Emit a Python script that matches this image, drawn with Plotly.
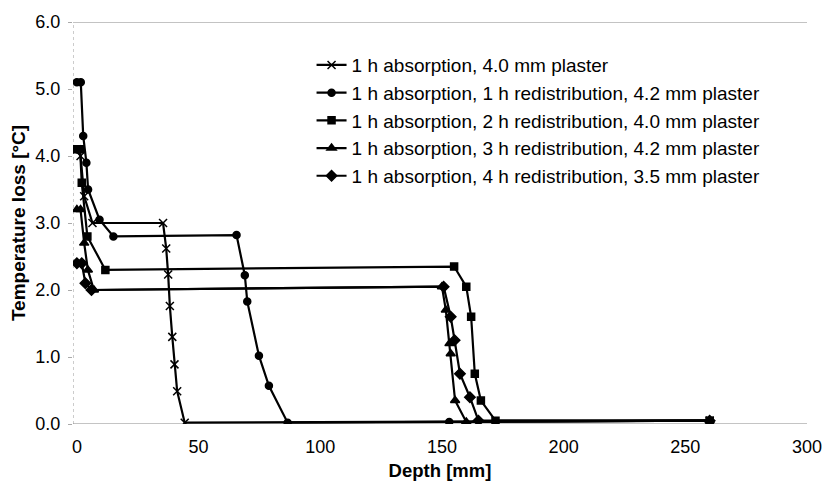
import plotly.graph_objects as go

names = [
    "1 h absorption, 4.0 mm plaster",
    "1 h absorption, 1 h redistribution, 4.2 mm plaster",
    "1 h absorption, 2 h redistribution, 4.0 mm plaster",
    "1 h absorption, 3 h redistribution, 4.2 mm plaster",
    "1 h absorption, 4 h redistribution, 3.5 mm plaster",
]

x_abs = [0, 1.5, 3, 6.4, 35.4, 36.7, 37.5, 38.2, 39.2, 40.1, 41.2, 44.3, 260]
y_abs = [4.1, 4.0, 3.4, 3.0, 3.0, 2.62, 2.23, 1.76, 1.30, 0.89, 0.49, 0.02, 0.05]

x_r1 = [0, 1.6, 2.6, 3.9, 4.6, 9.3, 15, 65.6, 69, 70, 74.8, 78.9, 86.6, 153, 260]
y_r1 = [5.1, 5.1, 4.3, 3.9, 3.5, 3.05, 2.8, 2.82, 2.22, 1.83, 1.02, 0.57, 0.02, 0.03, 0.05]

x_r2 = [0, 1.3, 2, 4.3, 11.7, 155, 160, 162, 163.5, 166, 172, 260]
y_r2 = [4.1, 4.1, 3.6, 2.8, 2.3, 2.35, 2.05, 1.6, 0.75, 0.35, 0.05, 0.05]

x_r3 = [0, 1.5, 3, 4.5, 7, 150, 151.6, 153.1, 153.6, 155.4, 160, 260]
y_r3 = [3.2, 3.2, 2.7, 2.3, 2.0, 2.05, 1.7, 1.2, 1.05, 0.35, 0.03, 0.05]

x_r4 = [0, 2, 3.5, 6, 150.7, 153.6, 155.2, 157.4, 161.5, 165, 260]
y_r4 = [2.4, 2.4, 2.1, 2.0, 2.05, 1.6, 1.25, 0.75, 0.4, 0.05, 0.05]

xs = [x_abs, x_r1, x_r2, x_r3, x_r4]
ys = [y_abs, y_r1, y_r2, y_r3, y_r4]
symbols = ["x-thin", "circle", "square", "triangle-up", "diamond"]
sizes = [8, 7, 7, 8, 8]

x_ticks = [0, 50, 100, 150, 200, 250, 300]
y_ticks = [0, 1, 2, 3, 4, 5, 6]

fig = go.Figure()
for n, x, y, s, sz in zip(names, xs, ys, symbols, sizes):
    fig.add_trace(go.Scatter(
        x=x, y=y, name=n, mode="lines+markers",
        line=dict(color="black", width=2.2),
        marker=dict(symbol=s, size=sz, color="black",
                    line=dict(color="black", width=1.5)),
    ))

fig.update_layout(
    width=834, height=494,
    margin=dict(l=73, r=19, t=15, b=70),
    paper_bgcolor="white", plot_bgcolor="white",
    font=dict(family="Liberation Sans, Arial, sans-serif", size=18, color="black"),
    showlegend=True,
    legend=dict(x=0.325, y=0.94, xanchor="left", yanchor="top",
                bgcolor="rgba(0,0,0,0)", font=dict(size=19),
                tracegroupgap=0, itemwidth=30),
    xaxis=dict(
        range=[-1.6, 300], tickvals=x_ticks,
        ticktext=[str(v) for v in x_ticks],
        showgrid=False, zeroline=False, showline=False,
        ticks="", ticklabelstandoff=10,
        title=dict(text="<b>Depth [mm]</b>", font=dict(size=18.5), standoff=8),
    ),
    yaxis=dict(
        range=[0, 6], tickvals=y_ticks,
        ticktext=["%.1f" % v for v in y_ticks],
        showgrid=False, zeroline=False,
        showline=False,
        ticks="outside", ticklen=4, tickcolor="#aaaaaa",
        ticklabelstandoff=4,
        title=dict(text="<b>Temperature loss [°C]</b>", font=dict(size=19), standoff=4),
    ),
)

# dotted y-axis line, top gridline at 6.0 and baseline at 0.0
fig.add_vline(x=-1.6, line=dict(color="#999999", width=1, dash="dot"), layer="below")
fig.add_hline(y=6, line=dict(color="#888888", width=1))
fig.add_hline(y=0, line=dict(color="#888888", width=1), layer="below")

fig.write_html("out.html")
